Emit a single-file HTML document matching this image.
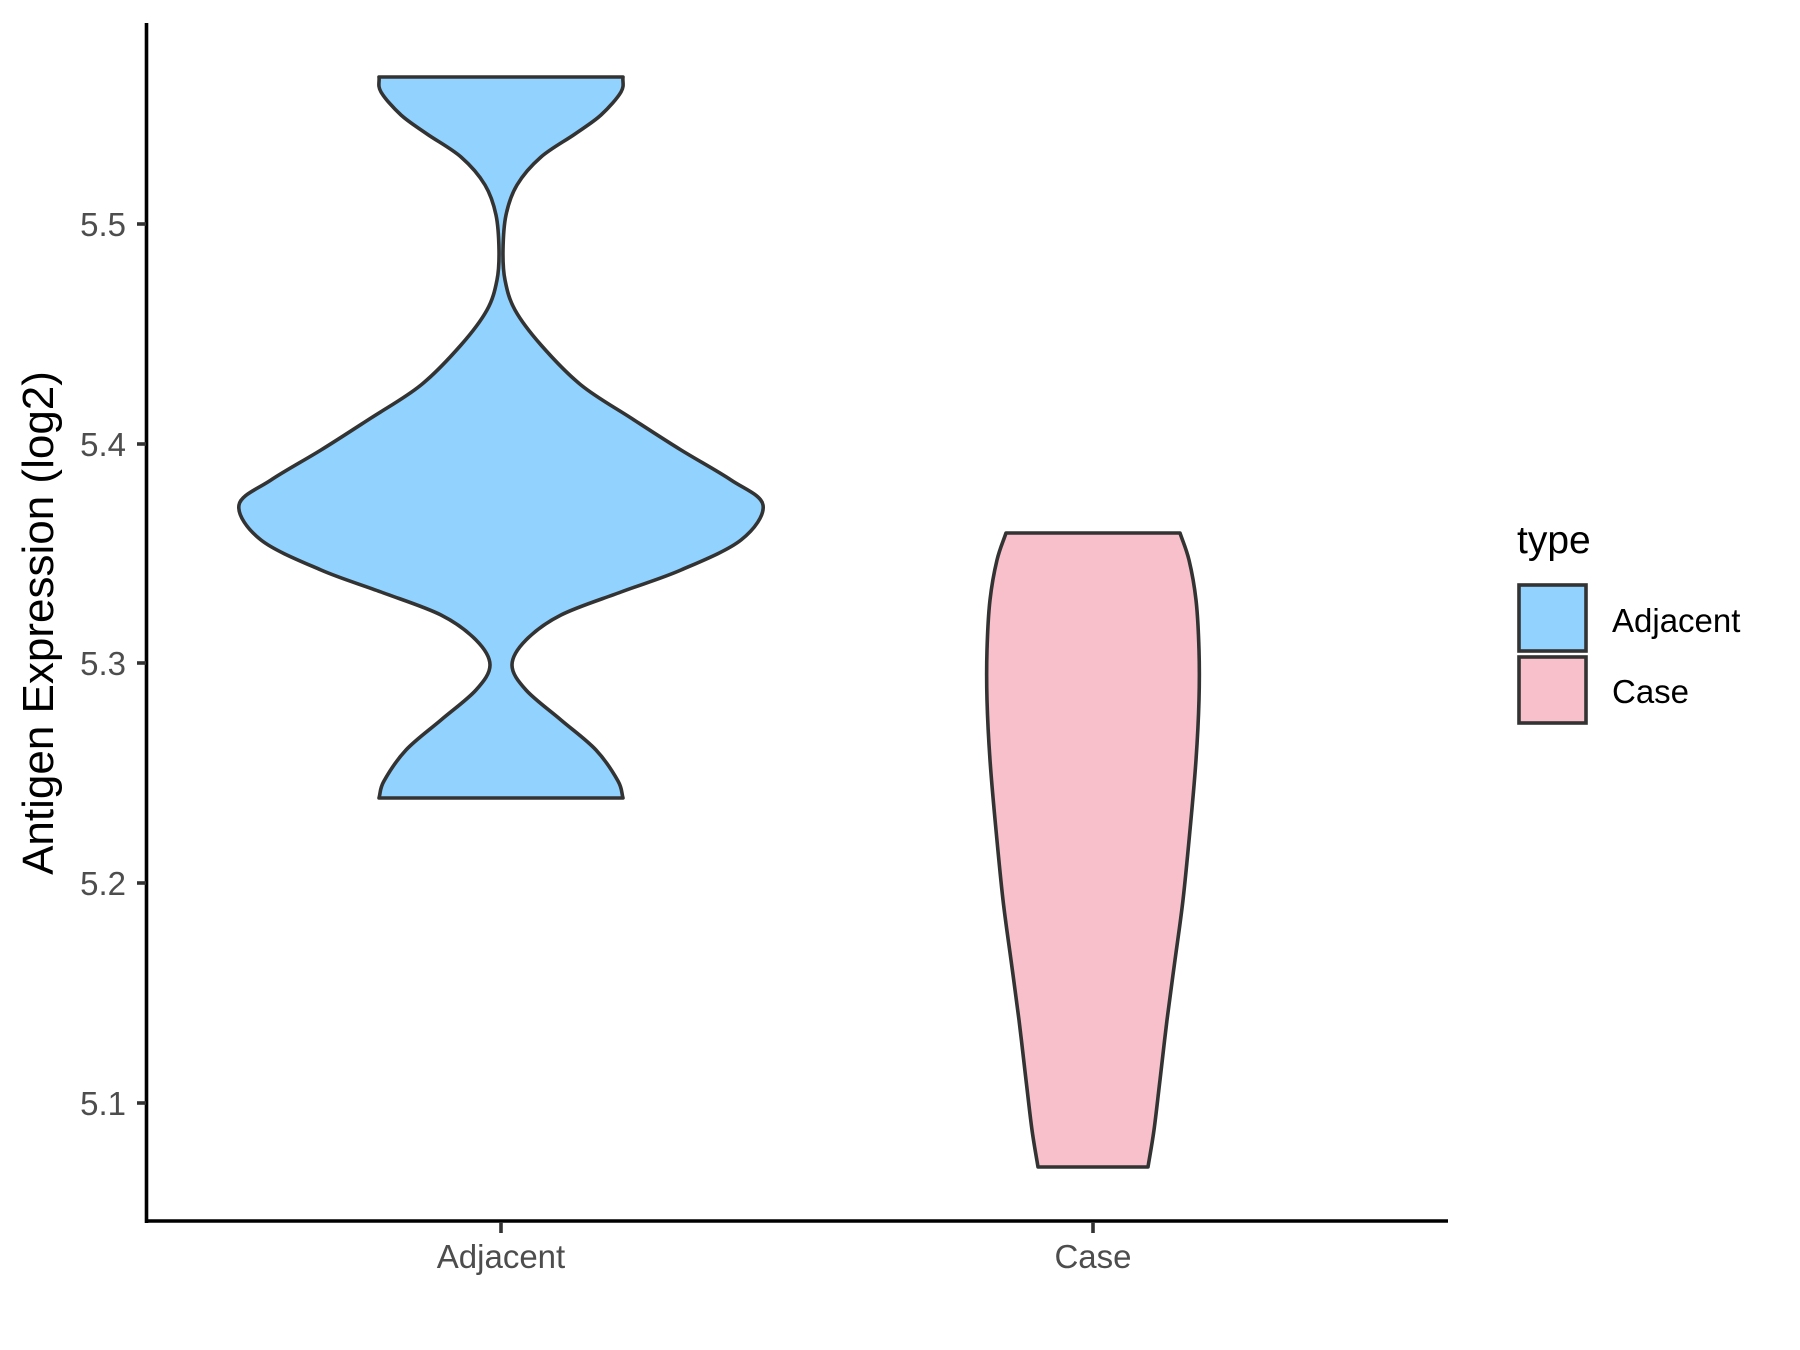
<!DOCTYPE html>
<html><head><meta charset="utf-8">
<style>
html,body{margin:0;padding:0;background:#fff;}
svg{display:block;}
text{font-family:"Liberation Sans",Arial,sans-serif;}
</style></head>
<body>
<svg id="s" width="1800" height="1350" viewBox="0 0 1800 1350" xmlns="http://www.w3.org/2000/svg">
<rect width="1800" height="1350" fill="#fff"/>
<path id="adj" fill="#91d3fe" stroke="#333333" stroke-width="3.6" stroke-linejoin="round"/>
<path id="cas" fill="#f7c0cb" stroke="#333333" stroke-width="3.6" stroke-linejoin="round"/>
<!-- axes -->
<line x1="146.5" y1="23" x2="146.5" y2="1223" stroke="#000" stroke-width="3.6"/>
<line x1="145" y1="1221" x2="1448" y2="1221" stroke="#000" stroke-width="3.6"/>
<g stroke="#333" stroke-width="3.6">
<line x1="137" y1="224" x2="146" y2="224"/>
<line x1="137" y1="444" x2="146" y2="444"/>
<line x1="137" y1="663" x2="146" y2="663"/>
<line x1="137" y1="883" x2="146" y2="883"/>
<line x1="137" y1="1103" x2="146" y2="1103"/>
<line x1="501" y1="1222" x2="501" y2="1233"/>
<line x1="1093" y1="1222" x2="1093" y2="1233"/>
</g>
<g fill="#4d4d4d" font-size="33" text-anchor="end">
<text x="126" y="236">5.5</text>
<text x="126" y="456">5.4</text>
<text x="126" y="675">5.3</text>
<text x="126" y="895">5.2</text>
<text x="126" y="1115">5.1</text>
</g>
<g fill="#4d4d4d" font-size="33" text-anchor="middle">
<text x="501" y="1268">Adjacent</text>
<text x="1093" y="1268">Case</text>
</g>
<text transform="translate(53,623) rotate(-90)" text-anchor="middle" font-size="44" fill="#000">Antigen Expression (log2)</text>
<!-- legend -->
<text x="1517" y="553" font-size="39" fill="#000">type</text>
<rect x="1519" y="585" width="67" height="66" fill="#91d3fe" stroke="#333" stroke-width="3.6"/>
<rect x="1519" y="657" width="67" height="66" fill="#f7c0cb" stroke="#333" stroke-width="3.6"/>
<text x="1612" y="632" font-size="33" fill="#000">Adjacent</text>
<text x="1612" y="703" font-size="33" fill="#000">Case</text>
</svg>
<script>
function cr(pts){
  var d="M"+pts[0][0]+","+pts[0][1];
  for(var i=0;i<pts.length-1;i++){
    var p1=pts[i],p2=pts[i+1];
    var p0=pts[i-1]||[2*p1[0]-p2[0],2*p1[1]-p2[1]];
    var p3=pts[i+2]||[2*p2[0]-p1[0],2*p2[1]-p1[1]];
    var c1=[p1[0]+(p2[0]-p0[0])/6,p1[1]+(p2[1]-p0[1])/6];
    var c2=[p2[0]-(p3[0]-p1[0])/6,p2[1]-(p3[1]-p1[1])/6];
    d+=" C"+c1[0].toFixed(1)+","+c1[1].toFixed(1)+" "+c2[0].toFixed(1)+","+c2[1].toFixed(1)+" "+p2[0].toFixed(1)+","+p2[1].toFixed(1);
  }
  return d;
}
function violin(cx,prof){
  var right=prof.map(function(p){return [cx+p[0],p[1]];});
  var left=prof.slice().reverse().map(function(p){return [cx-p[0],p[1]];});
  var d=cr(right);
  d+=" L"+left[0][0]+","+left[0][1];
  d+=" "+cr(left).replace(/^M[^ ]+/,"");
  d+=" Z";
  return d;
}
var adj=[[122,77],[120,92],[100,115],[74,134],[40,157],[16,185],[5,215],[2,250],[4,280],[14,310],[40,345],[80,385],[130,418],[180,450],[230,480],[262,505],[240,540],[180,570],[120,592],[60,615],[25,640],[11,665],[25,690],[60,720],[95,750],[117,781],[122,798]];
var cas=[[87,533],[96,560],[103,600],[106,650],[106,700],[103,760],[97,830],[90,900],[82,960],[74,1020],[67,1080],[61,1130],[55,1167]];
document.getElementById("adj").setAttribute("d",violin(501,adj));
document.getElementById("cas").setAttribute("d",violin(1093,cas));
</script>
</body></html>
